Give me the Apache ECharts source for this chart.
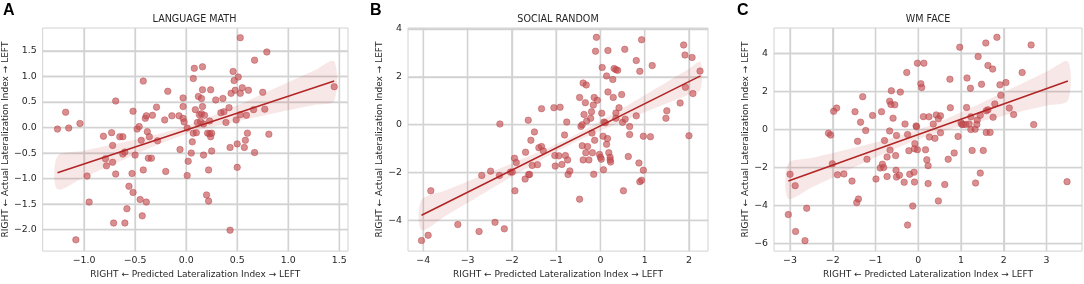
<!DOCTYPE html>
<html><head><meta charset="utf-8">
<script src="https://cdn.jsdelivr.net/npm/echarts@6/dist/echarts.min.js"></script>
<style>html,body{margin:0;padding:0;background:#fff}#c{width:1084px;height:284px}</style>
</head><body><div id="c"></div>
<script>
// ---------- data ----------
const titles = ['LANGUAGE MATH', 'SOCIAL RANDOM', 'WM FACE'];
const letters = ['A', 'B', 'C'];

const mathX = [-1.26,-1.18,-1.15,-1.04,-1.08,-0.97,-0.95,-0.81,-0.79,-0.78,-0.73,-0.72,-0.72,-0.71,-0.69,-0.69,-0.65,-0.62,-0.62,-0.60,-0.60,-0.58,-0.56,-0.53,-0.52,-0.52,-0.50,-0.48,-0.46,-0.45,-0.44,-0.43,-0.42,-0.42,-0.40,-0.39,-0.39,-0.38,-0.37,-0.36,-0.34,-0.33,-0.29,-0.28,-0.21,-0.20,-0.18,-0.14,-0.07,-0.06,-0.03,-0.03,-0.03,-0.02,0.01,0.01,0.02,0.05,0.06,0.07,0.07,0.08,0.09,0.10,0.11,0.12,0.13,0.14,0.15,0.15,0.16,0.16,0.16,0.17,0.17,0.18,0.20,0.21,0.22,0.22,0.23,0.23,0.24,0.24,0.25,0.25,0.29,0.36,0.34,0.37,0.39,0.42,0.43,0.43,0.44,0.46,0.47,0.48,0.49,0.50,0.50,0.51,0.53,0.53,0.53,0.55,0.57,0.58,0.59,0.60,0.61,0.66,0.67,0.67,0.75,0.77,0.79,0.81,1.45];
const mathY = [-0.03,0.30,-0.01,0.08,-2.20,-0.95,-1.46,-0.17,-0.61,-0.75,-0.10,-0.35,-0.68,-1.87,0.52,-0.91,-0.18,-0.18,-0.52,-0.48,-1.87,-1.59,-1.15,-0.90,0.32,-1.27,-0.54,-0.03,0.02,-1.41,-0.25,-1.73,0.91,-0.83,0.18,-1.46,0.23,-0.08,-0.60,-0.18,-0.60,0.24,0.40,-0.26,0.15,-0.86,0.71,0.23,0.23,-0.43,0.58,0.41,0.18,0.11,-0.01,-0.94,-0.66,-0.50,-0.28,0.96,-0.11,1.16,0.35,-0.10,0.10,0.61,0.25,0.12,0.27,0.57,0.41,0.74,1.19,0.07,-0.54,0.24,-1.32,-0.11,-0.83,-1.44,0.13,-0.12,0.74,-0.18,-0.46,-0.11,0.54,0.57,0.29,0.31,0.10,0.39,-0.39,-2.01,0.67,1.10,0.92,0.73,0.15,-0.78,-0.32,0.99,0.25,1.76,0.67,0.78,-0.39,-0.25,0.24,-0.11,0.73,0.35,1.32,-0.49,0.69,0.36,1.48,-0.13,0.80];

const socialX = [-4.04,-3.89,-3.83,-3.22,-2.74,-2.68,-2.48,-2.38,-2.28,-2.27,-2.17,-2.03,-1.99,-1.94,-1.93,-1.90,-1.70,-1.69,-1.63,-1.62,-1.60,-1.57,-1.54,-1.49,-1.42,-1.39,-1.33,-1.33,-1.29,-1.05,-1.03,-1.02,-0.94,-0.91,-0.87,-0.81,-0.79,-0.76,-0.74,-0.73,-0.69,-0.47,-0.47,-0.44,-0.41,-0.41,-0.39,-0.39,-0.37,-0.34,-0.33,-0.32,-0.31,-0.29,-0.26,-0.22,-0.20,-0.19,-0.18,-0.16,-0.15,-0.14,-0.13,-0.11,-0.09,-0.07,-0.02,0.00,0.02,0.03,0.04,0.06,0.07,0.08,0.11,0.14,0.14,0.16,0.17,0.17,0.19,0.22,0.22,0.23,0.28,0.29,0.31,0.35,0.35,0.35,0.39,0.42,0.48,0.50,0.52,0.55,0.56,0.63,0.66,0.66,0.81,0.81,0.87,0.89,0.89,0.93,0.93,0.97,0.97,1.13,1.17,1.48,1.50,1.80,1.88,1.91,1.92,2.00,2.07,2.09,2.25];
const socialY = [-4.84,-4.62,-2.76,-4.17,-4.46,-2.12,-1.94,-4.08,-2.12,0.03,-4.35,-1.98,-1.98,-1.40,-2.76,-1.58,-2.27,-1.15,0.19,-2.08,-2.08,-0.65,-1.70,-0.30,-1.67,-0.96,0.67,-0.91,-1.09,0.71,-1.29,-1.73,-1.30,0.73,-1.66,-0.43,-1.29,0.11,-1.47,-2.08,-1.93,1.14,-3.11,-0.07,0.00,-0.88,1.74,-1.47,0.43,0.92,-1.17,1.66,0.15,-0.91,-1.47,0.27,0.54,-0.35,-1.17,0.82,-2.07,1.14,-0.65,3.07,3.65,1.02,-1.24,-1.36,-1.44,0.48,2.39,-0.48,-1.88,0.11,0.08,2.04,-0.82,-0.58,1.37,3.10,-1.17,-1.36,-1.47,-1.56,1.89,1.14,2.35,2.30,0.49,0.27,2.27,0.71,1.26,0.10,-2.76,3.15,0.23,-1.33,-0.08,-0.41,2.68,0.37,-1.60,2.23,-2.38,-2.32,3.55,-0.48,-1.90,-0.50,2.47,0.27,0.58,0.91,3.33,2.91,1.56,-0.46,2.81,1.30,2.24];

const faceX = [-3.04,-3.00,-2.88,-2.87,-2.65,-2.61,-2.10,-2.05,-2.01,-1.98,-1.91,-1.89,-1.74,-1.55,-1.48,-1.44,-1.42,-1.40,-1.35,-1.30,-1.23,-1.20,-1.07,-0.99,-0.89,-0.86,-0.84,-0.81,-0.79,-0.73,-0.73,-0.67,-0.67,-0.66,-0.64,-0.63,-0.59,-0.55,-0.53,-0.52,-0.51,-0.51,-0.44,-0.42,-0.33,-0.31,-0.27,-0.25,-0.25,-0.22,-0.20,-0.13,-0.10,-0.09,-0.09,-0.08,-0.05,-0.04,-0.02,-0.02,0.06,0.08,0.12,0.13,0.17,0.20,0.23,0.23,0.25,0.26,0.35,0.39,0.42,0.47,0.47,0.52,0.52,0.62,0.70,0.74,0.75,0.84,0.93,0.97,1.00,1.02,1.05,1.11,1.13,1.14,1.19,1.22,1.23,1.23,1.26,1.33,1.34,1.37,1.38,1.40,1.45,1.45,1.48,1.52,1.58,1.59,1.59,1.63,1.63,1.68,1.74,1.75,1.79,1.84,1.91,1.93,2.05,2.13,2.23,2.43,2.64,2.70,3.48];
const faceY = [-4.47,-2.35,-2.95,-5.36,-5.84,-4.14,-0.19,-0.29,-1.80,0.96,1.13,-2.38,-2.33,-2.71,0.94,-3.84,-0.62,-3.65,0.39,1.73,-0.05,-1.56,0.74,-2.60,-2.02,0.94,-1.82,-2.00,-0.58,-2.47,-1.44,1.49,-0.07,-1.08,1.32,2.04,0.60,1.30,-1.37,-2.14,-2.50,-0.31,-2.40,1.97,-2.77,0.29,3.00,-0.26,-5.02,-1.11,-2.35,-4.02,-2.24,-1.01,-2.76,-0.74,0.19,0.15,-1.06,3.49,2.41,2.21,0.68,3.49,-1.06,-1.59,-1.90,-2.84,0.67,-0.39,0.29,-0.46,0.77,0.57,-3.75,-0.17,0.72,-2.89,-1.56,2.65,1.15,-1.23,-0.36,4.33,0.36,0.27,0.27,0.26,1.16,2.71,0.29,2.17,0.67,0.00,-1.10,0.02,-2.81,0.27,0.50,3.84,-2.29,0.75,2.38,-1.10,4.55,0.99,-0.15,3.37,1.04,-0.15,3.18,0.65,1.35,4.85,2.35,1.80,2.47,1.13,0.79,3.00,4.45,0.26,-2.74];

// regression line end points (x, y)
const mathFitX = [-1.26, 1.45];   const mathFitY = [-0.885, 0.91];
const socialFitX = [-4.04, 2.26]; const socialFitY = [-3.78, 2.04];
const faceFitX = [-3.04, 3.50];   const faceFitY = [-2.71, 2.55];

// confidence band (x, lower, upper)
const mathBandX = [-1.26,-1.0,-0.75,-0.5,-0.25,0,0.25,0.5,0.75,1.0,1.25,1.45];
const mathBandLo = [-1.21,-0.974,-0.749,-0.527,-0.314,-0.130,0.009,0.125,0.233,0.339,0.442,0.525];
const mathBandHi = [-0.56,-0.452,-0.346,-0.237,-0.118,0.030,0.221,0.437,0.659,0.885,1.112,1.295];
const socialBandX = [-4.04,-3.5,-3,-2.5,-2,-1.5,-1,-0.5,0,0.5,1,1.5,2,2.26];
const socialBandLo = [-4.41,-3.814,-3.263,-2.715,-2.172,-1.638,-1.129,-0.667,-0.253,0.137,0.517,0.893,1.267,1.46];
const socialBandHi = [-3.15,-2.748,-2.375,-1.999,-1.618,-1.228,-0.815,-0.353,0.157,0.691,1.235,1.783,2.333,2.62];
const faceBandX = [-3.04,-2.5,-2,-1.5,-1,-0.5,0,0.5,1,1.5,2,2.5,3,3.5];
const faceBandLo = [-3.635,-3.052,-2.514,-1.983,-1.462,-0.963,-0.515,-0.145,0.168,0.455,0.729,0.997,1.262,1.525];
const faceBandHi = [-1.785,-1.500,-1.232,-0.959,-0.676,-0.371,-0.015,0.419,0.910,1.429,1.959,2.495,3.034,3.575];

// ticks
const mathXTicks = [-1.0,-0.5,0.0,0.5,1.0,1.5];
const mathYTicks = [-2.0,-1.5,-1.0,-0.5,0.0,0.5,1.0,1.5];
const socialXTicks = [-4,-3,-2,-1,0,1,2];
const socialYTicks = [-4,-2,0,2,4];
const faceXTicks = [-3,-2,-1,0,1,2,3];
const faceYTicks = [-6,-4,-2,0,2,4];

const xName = 'RIGHT \u2190 Predicted Lateralization Index \u2192 LEFT';
const yName = 'RIGHT \u2190 Actual Lateralization Index \u2192 LEFT';

// ---------- layout / style ----------
const panels = [
  {x: mathX, y: mathY, fx: mathFitX, fy: mathFitY, bx: mathBandX, blo: mathBandLo, bhi: mathBandHi,
   xt: mathXTicks, yt: mathYTicks, dec: 1, xr: [-1.405, 1.585], yr: [-2.42, 1.95],
   grid: {left: 41, width: 307}, yGap: 30, letterX: 3},
  {x: socialX, y: socialY, fx: socialFitX, fy: socialFitY, bx: socialBandX, blo: socialBandLo, bhi: socialBandHi,
   xt: socialXTicks, yt: socialYTicks, dec: 0, xr: [-4.345, 2.43], yr: [-5.28, 4.04],
   grid: {left: 408, width: 300}, yGap: 22, letterX: 370},
  {x: faceX, y: faceY, fx: faceFitX, fy: faceFitY, bx: faceBandX, blo: faceBandLo, bhi: faceBandHi,
   xt: faceXTicks, yt: faceYTicks, dec: 0, xr: [-3.375, 3.83], yr: [-6.39, 5.34],
   grid: {left: 774, width: 308}, yGap: 21, letterX: 737}
];

const FONT = 'DejaVu Sans';
const TXT = '#262626';
const GRIDC = '#d2d2d2';
const PT = 'rgba(196,78,82,0.8)';
const LINE = '#b22525';
const BAND = 'rgba(200,70,70,0.13)';

function fmt(d) { return v => Number(v).toFixed(d).replace('-', '\u2212'); }

const option = {
  animation: false,
  title: [], grid: [], xAxis: [], yAxis: [], series: [],
  graphic: []
};

panels.forEach((p, i) => {
  option.grid.push({left: p.grid.left, width: p.grid.width, top: 28, height: 229, z: -1,
    show: true, borderColor: GRIDC, borderWidth: 1, containLabel: false});
  option.title.push({text: titles[i], left: p.grid.left + p.grid.width / 2, textAlign: 'center', top: 14, padding: 0,
    textStyle: {fontFamily: FONT, fontSize: 9.6, fontWeight: 'normal', color: TXT}});
  option.graphic.push({type: 'text', left: p.letterX, top: 3,
    style: {text: letters[i], font: 'bold 16px "Liberation Sans", Arial, sans-serif', fill: '#000'}});
  option.xAxis.push({type: 'value', gridIndex: i, min: p.xr[0], max: p.xr[1],
    name: xName, nameLocation: 'middle', nameGap: 16,
    nameTextStyle: {fontFamily: FONT, fontSize: 9, color: TXT},
    axisLine: {show: false},
    axisTick: {show: false, customValues: p.xt},
    axisLabel: {customValues: p.xt, formatter: fmt(p.dec), fontFamily: FONT, fontSize: 9.4, color: TXT, margin: 5},
    splitLine: {show: true, lineStyle: {color: GRIDC, width: 1.3}}});
  option.yAxis.push({type: 'value', gridIndex: i, min: p.yr[0], max: p.yr[1],
    name: yName, nameLocation: 'middle', nameGap: p.yGap,
    nameTextStyle: {fontFamily: FONT, fontSize: 9, color: TXT},
    axisLine: {show: false},
    axisTick: {show: false, customValues: p.yt},
    axisLabel: {customValues: p.yt, formatter: fmt(p.dec), fontFamily: FONT, fontSize: 9.4, color: TXT, margin: 6},
    splitLine: {show: true, lineStyle: {color: GRIDC, width: 1.3}}});

  // grid lines at the tick values, drawn as thin line series through the axes' scales
  const ex = (p.xr[1] - p.xr[0]) * 0.001, ey = (p.yr[1] - p.yr[0]) * 0.001;
  p.xt.forEach(v => option.series.push({type: 'line', xAxisIndex: i, yAxisIndex: i, z: 2.9, silent: true,
    symbol: 'none', showSymbol: false, lineStyle: {color: GRIDC, width: 1.3, opacity: 1},
    data: [[v, p.yr[0] + ey], [v + ex * 0.001, p.yr[1] - ey]]}));
  p.yt.forEach(v => option.series.push({type: 'line', xAxisIndex: i, yAxisIndex: i, z: 2.9, silent: true,
    symbol: 'none', showSymbol: false, lineStyle: {color: GRIDC, width: 1.3, opacity: 1},
    data: [[p.xr[0] + ex, v], [p.xr[1] - ex, v + ey * 0.001]]}));

  option.series.push({type: 'scatter', xAxisIndex: i, yAxisIndex: i, z: 3,
    symbolSize: 6.5,
    itemStyle: {color: PT, borderColor: 'rgba(180,65,70,0.9)', borderWidth: 0.6},
    data: p.x.map((v, k) => [v, p.y[k]])});
  option.series.push({type: 'custom', xAxisIndex: i, yAxisIndex: i, z: 4, silent: true,
    data: [[p.bx[0], p.blo[0]]],
    renderItem: (params, api) => {
      const pts = [];
      p.bx.forEach((x, k) => pts.push(api.coord([x, p.bhi[k]])));
      for (let k = p.bx.length - 1; k >= 0; k--) pts.push(api.coord([p.bx[k], p.blo[k]]));
      return {type: 'polygon', shape: {points: pts, smooth: 0.3}, style: {fill: BAND}};
    }});
  option.series.push({type: 'line', xAxisIndex: i, yAxisIndex: i, z: 5, silent: true,
    symbol: 'none', lineStyle: {color: LINE, width: 1.6},
    data: p.fx.map((v, k) => [v, p.fy[k]])});
});

const chart = echarts.init(document.getElementById('c'), null, {renderer: 'canvas'});
chart.setOption(option);
</script></body></html>
